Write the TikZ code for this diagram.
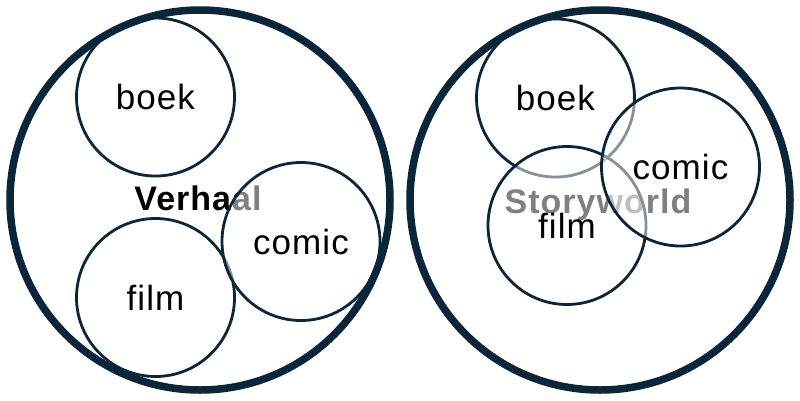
\documentclass[tikz,border=0pt]{standalone}
\usepackage{fontspec}
\setmainfont{Liberation Sans}
\newfontfamily\labelfont[LetterSpace=3]{Liberation Sans}
\newfontfamily\titlefont[LetterSpace=3]{Liberation Sans}
\usepackage{tikz}
\usetikzlibrary{positioning}
\definecolor{navy}{HTML}{0B2539}

\begin{document}
\begin{tikzpicture}
      [x=1pt, y=-1pt,
       medium/.style={circle, draw=navy, line width=2.8pt, fill=white, fill opacity=0.5, text opacity=1,
                      minimum size=158pt, inner sep=0pt, font=\labelfont\fontsize{35}{38}\selectfont},
       world/.style={circle, draw=navy, line width=7.5pt, minimum size=380pt, inner sep=0pt},
       title/.style={anchor=base, inner sep=0pt, font=\titlefont\bfseries\fontsize{34}{38}\selectfont}]
      \useasboundingbox (0,0) rectangle (800,400);

      % Left: Verhaal
      \node[title] (verhaal) at (198,210) {Verhaal};
      \node[medium] (boekL) at (155.5,97) {boek};
      \node[medium] (filmL) at (155.5,297.5) {film};
      \node[medium] (comicL) at (301,241.5) {comic};
      \node[world] (verhaalRand) at (200,200) {};

      % Right: Storyworld
      \node[title] (storyworld) at (598,213) {Storyworld};
      \node[medium] (boekR) at (555.5,98) {boek};
      \node[medium] (filmR) at (567,225.5) {film};
      \node[medium] (comicR) at (680.5,167) {comic};
      \node[world] (storyworldRand) at (600,200) {};

\end{tikzpicture}
\end{document}
